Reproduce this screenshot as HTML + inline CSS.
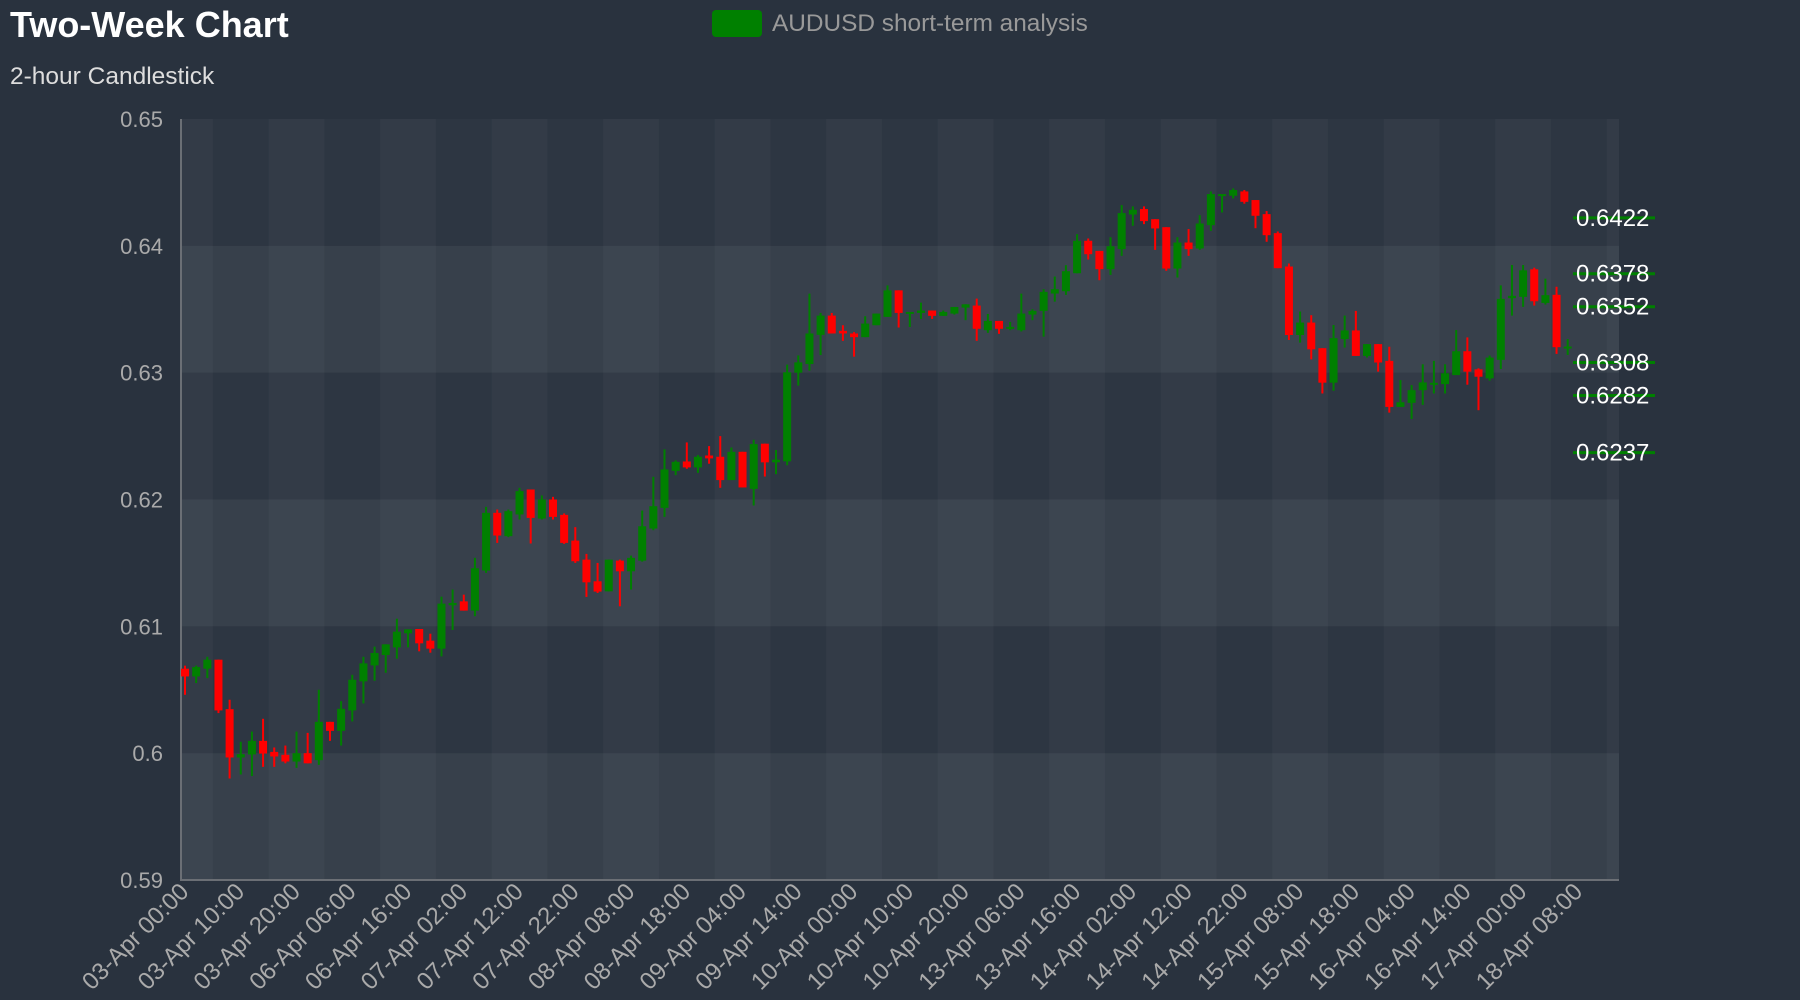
<!DOCTYPE html>
<html><head><meta charset="utf-8"><style>
html,body{margin:0;padding:0;background:#29323e;}
svg{display:block;font-family:"Liberation Sans",sans-serif;}
</style></head><body>
<svg id="chart" width="1800" height="1000">
<rect width="1800" height="1000" fill="#29323e"/>
<text x="10" y="37" fill="#ffffff" font-size="36" font-weight="bold">Two-Week Chart</text>
<text x="10" y="84" fill="#dddddd" font-size="24.5">2-hour Candlestick</text>
<g>
<rect x="712" y="10" width="50" height="27" rx="4" fill="#008000"/>
<text x="772" y="31" fill="#999999" font-size="24.4">AUDUSD short-term analysis</text>
</g>
<g id="bands"></g>
<g id="yaxis"></g>
<g id="xaxis"></g>
<g id="candles"></g>
<g id="levels"></g>
</svg>
<script>
const opens=[.60666,.60605,.60666,.60737,.60347,.59966,.5999,.60097,.6001,.59987,.59934,.6,.59945,.60247,.60176,.60337,.60566,.60692,.60774,.60834,.60945,.60979,.60887,.60824,.61166,.61197,.61124,.6144,.61895,.61711,.61882,.62079,.6185,.62,.61879,.61676,.61526,.61355,.61276,.61518,.61434,.61518,.61771,.61934,.62226,.623,.62253,.62347,.62337,.62153,.62376,.62084,.6244,.62293,.62301,.63,.63068,.63298,.6345,.6333,.63309,.6328,.63374,.6344,.63649,.63471,.63471,.6349,.63448,.63466,.63513,.63529,.63335,.63408,.63346,.63335,.63458,.63487,.63624,.63642,.63784,.6404,.6396,.63816,.63974,.64247,.6429,.6421,.64147,.63821,.64026,.63979,.64163,.64395,.64395,.64429,.64361,.6425,.641,.63837,.63297,.63395,.63193,.62921,.63265,.63333,.63132,.63225,.63093,.6273,.62762,.62862,.62907,.6291,.62981,.63169,.63026,.62955,.63101,.63587,.63598,.63815,.6355,.63614,.63201];
const highs=[.6069,.6069,.6076,.60737,.60421,.6009,.6017,.60271,.60045,.6006,.6017,.6016,.605,.60247,.6041,.60618,.6076,.6084,.60858,.6106,.60976,.60979,.60942,.61234,.6129,.6125,.6154,.61942,.61921,.61921,.62092,.62079,.62032,.62021,.6189,.61782,.61571,.615,.61526,.61526,.61558,.61913,.62179,.62395,.62308,.6245,.6235,.62421,.625,.6241,.62376,.62471,.6244,.6239,.63063,.63136,.63623,.63471,.63471,.63374,.6332,.63445,.63466,.63688,.63649,.63479,.63552,.6349,.6349,.63518,.63539,.63584,.63463,.63408,.634,.63623,.635,.63658,.63758,.63847,.64092,.64058,.6396,.64068,.64321,.64311,.64311,.6421,.64147,.64068,.64132,.64242,.64429,.64408,.64453,.6444,.64361,.64274,.64113,.63861,.63482,.63453,.63193,.63376,.6345,.63487,.63225,.63225,.63204,.62942,.62902,.63066,.63093,.63066,.63336,.63278,.63034,.63135,.63688,.63849,.63849,.63828,.63741,.63677,.63265];
const lows=[.6046,.60553,.60592,.60316,.598,.59832,.5982,.59892,.59892,.5992,.59884,.5992,.59908,.60097,.6006,.6025,.60392,.60571,.60634,.60745,.60834,.60803,.60792,.60763,.60971,.61124,.6108,.61421,.61658,.61703,.61842,.61653,.61842,.61842,.6165,.615,.61232,.61263,.61276,.61158,.6129,.6151,.61758,.61863,.62192,.62242,.6221,.62282,.62092,.62153,.62095,.61953,.62181,.622,.6227,.62898,.63016,.63139,.63309,.63251,.63126,.6328,.63374,.6344,.63356,.6336,.63424,.63424,.63448,.63458,.63414,.63251,.63314,.63306,.63335,.63325,.63414,.63284,.6356,.63613,.63784,.63892,.63729,.63771,.63921,.64158,.64171,.63968,.63803,.6375,.63921,.63968,.64118,.64263,.64374,.64332,.64139,.64032,.63824,.63258,.63237,.63105,.62836,.62857,.63198,.63132,.63119,.63008,.62685,.6273,.62635,.62746,.62836,.62836,.62981,.62905,.62704,.62937,.63029,.6345,.63519,.63529,.63537,.63148,.6314];
const closes=[.60605,.60679,.60737,.60337,.59966,.59992,.60097,.59997,.59974,.59934,.6,.5992,.60247,.60176,.6035,.60579,.60708,.6079,.60858,.60958,.60976,.60866,.60824,.61179,.61184,.61124,.61458,.61895,.61716,.61908,.62066,.61855,.62,.61863,.61658,.61513,.61347,.61274,.61526,.61434,.6154,.61789,.61947,.62237,.62297,.62253,.62337,.62324,.62153,.62376,.62095,.62437,.62293,.62314,.63003,.63081,.63309,.6345,.63309,.63309,.6328,.63387,.63466,.63649,.63471,.63479,.6349,.63448,.63479,.63518,.63539,.63346,.63408,.63346,.63361,.63466,.63487,.63637,.63658,.638,.6404,.63934,.63816,.63997,.64258,.64284,.64195,.64137,.63821,.64026,.63974,.64176,.64408,.64408,.6444,.64347,.64237,.64084,.63824,.63297,.63395,.63184,.62921,.63272,.63333,.63132,.63225,.6308,.6273,.62767,.62862,.62923,.6292,.62995,.63169,.63008,.62968,.63119,.63582,.63606,.63807,.63563,.63611,.63201,.63206];
const xLabels=["03-Apr 00:00","03-Apr 10:00","03-Apr 20:00","06-Apr 06:00","06-Apr 16:00","07-Apr 02:00","07-Apr 12:00","07-Apr 22:00","08-Apr 08:00","08-Apr 18:00","09-Apr 04:00","09-Apr 14:00","10-Apr 00:00","10-Apr 10:00","10-Apr 20:00","13-Apr 06:00","13-Apr 16:00","14-Apr 02:00","14-Apr 12:00","14-Apr 22:00","15-Apr 08:00","15-Apr 18:00","16-Apr 04:00","16-Apr 14:00","17-Apr 00:00","18-Apr 08:00"];
const yTicks=[0.59,0.60,0.61,0.62,0.63,0.64,0.65];
const yTickLabels=["0.59","0.6","0.61","0.62","0.63","0.64","0.65"];
const levels=[0.6422,0.6378,0.6352,0.6308,0.6282,0.6237];

const NS="http://www.w3.org/2000/svg";
const L=181,R=1619,T=119,B=880,XMIN=-0.36,XMAX=128.6,YMIN=0.59,YMAX=0.65;
function xs(i){return L+(i-XMIN)/(XMAX-XMIN)*(R-L);}
function ys(v){return B-(v-YMIN)/(YMAX-YMIN)*(B-T);}
function mk(tag,attrs,parent){const e=document.createElementNS(NS,tag);for(const k in attrs)e.setAttribute(k,attrs[k]);parent.appendChild(e);return e;}
const bands=document.getElementById('bands'),yax=document.getElementById('yaxis'),xax=document.getElementById('xaxis'),cg=document.getElementById('candles'),lg=document.getElementById('levels');
for(let k=0;k<yTicks.length-1;k++){
  const y1=ys(yTicks[k+1]),y2=ys(yTicks[k]);
  const r=mk('rect',{x:L,y:y1,width:R-L,height:y2-y1,fill:k%2===0?'rgba(255,255,255,0.08)':'rgba(255,255,255,0.03)'},bands);
  
  
}
for(let k=0;k<=xLabels.length;k++){
  const a=Math.max(L,xs(k*5-2.5)),b=Math.min(R,xs(k*5+2.5));
  if(b<=a)continue;
  const r=mk('rect',{x:a,y:T,width:b-a,height:B-T,fill:k%2===0?'rgba(255,255,255,0.018)':'rgba(0,0,0,0.025)'},bands);
  
  
}
let al=mk('line',{x1:L,y1:T,x2:L,y2:B+1,stroke:'#6b6f75','stroke-width':2},yax);


al=mk('line',{x1:L,y1:B,x2:R,y2:B,stroke:'#6b6f75','stroke-width':2},xax);


yTicks.forEach((v,k)=>{
  const t=mk('text',{x:163,y:ys(v)+8,'text-anchor':'end',fill:'#aaaaaa','font-size':22},yax);
  t.textContent=yTickLabels[k];
  
  
});
xLabels.forEach((s,k)=>{
  const x=xs(k*5)+5,y=893;
  const t=mk('text',{x:x,y:y,'text-anchor':'end',fill:'#aaaaaa','font-size':24,transform:`rotate(-45 ${x} ${y})`},xax);
  t.textContent=s;
  
  
});
for(let i=0;i<opens.length;i++){
  const up=closes[i]>=opens[i],col=up?'#008000':'#ff0000',cx=xs(i);
  const g=mk('g',{},cg);
  
  
  const w=mk('line',{x1:cx,x2:cx,y1:ys(highs[i]),y2:ys(lows[i]),stroke:col,'stroke-width':2},g);
  
  
  const top=ys(Math.max(opens[i],closes[i])),bot=ys(Math.min(opens[i],closes[i]));
  const b=mk('rect',{x:cx-4,y:top,width:8,height:Math.max(2,bot-top),fill:col},g);
  
  
}
levels.forEach(v=>{
  const y=ys(v);
  const ln=mk('line',{x1:1573,x2:1655,y1:y,y2:y,stroke:'#008000','stroke-width':3},lg);
  
  
  const t=mk('text',{x:1576,y:y+8,fill:'#ffffff','font-size':24},lg);
  t.textContent=v.toFixed(4);
  
  
});
</script>
</body></html>
